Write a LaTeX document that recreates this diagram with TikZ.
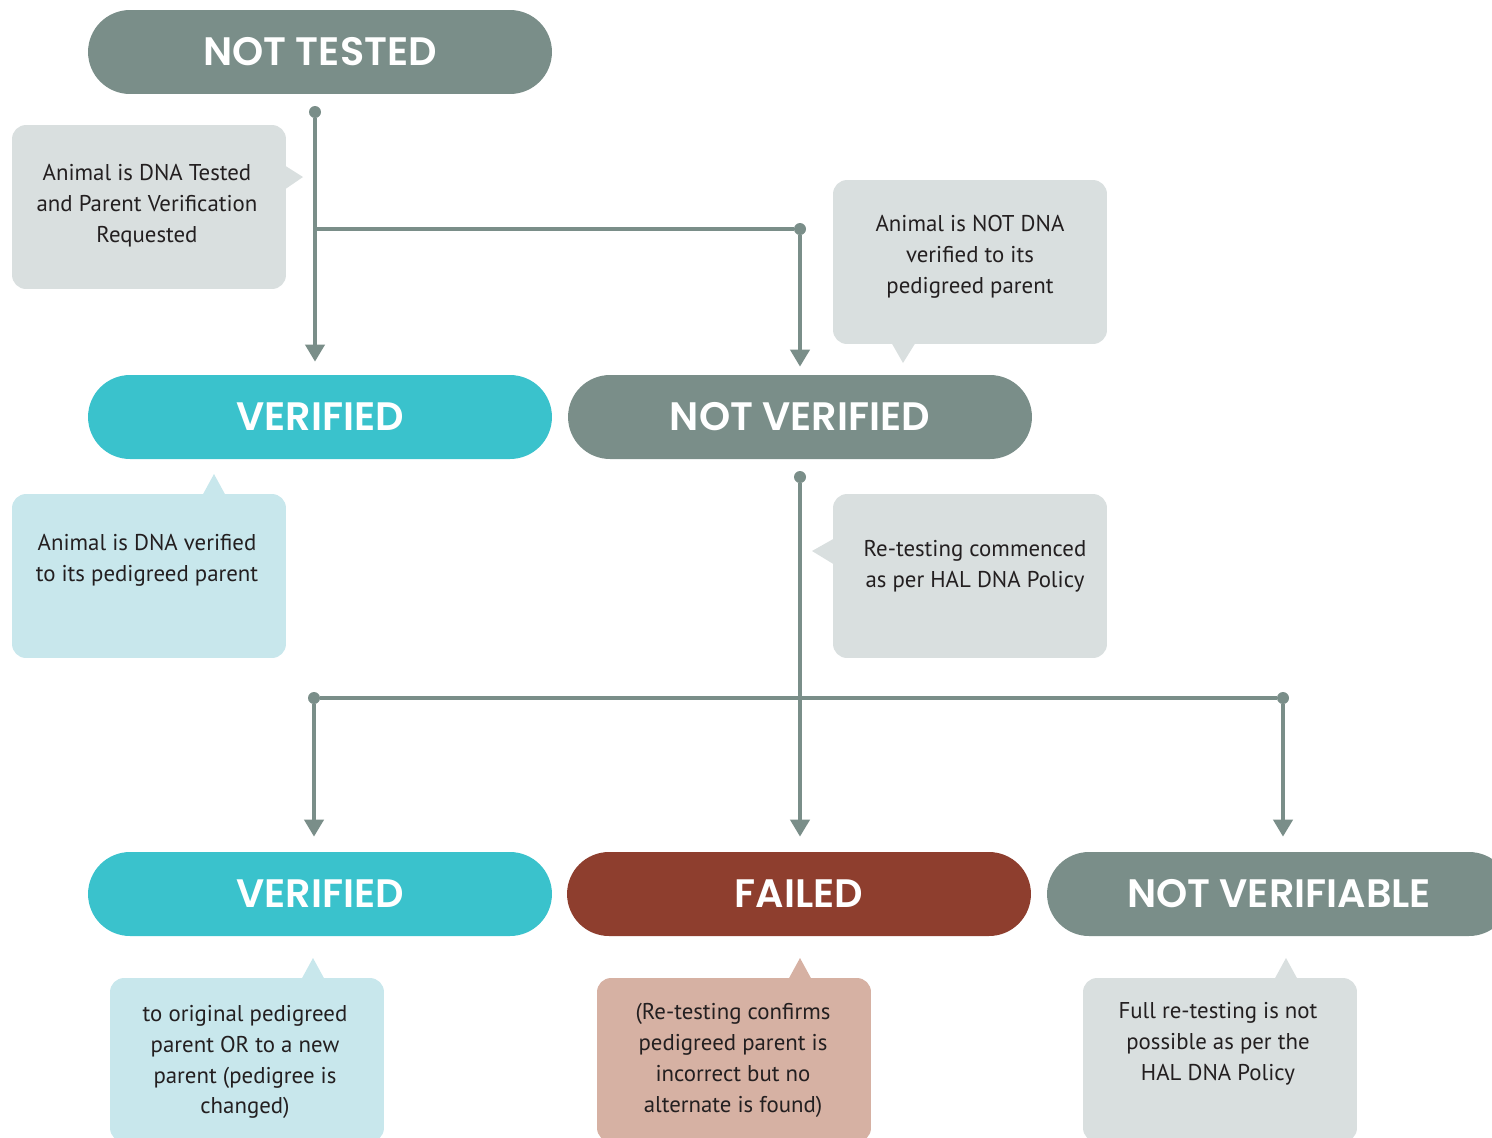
\documentclass[tikz,border=0pt]{standalone}
\usepackage{fontspec}
\setmainfont{PT Sans}
\newfontfamily\headfont{Poppins}[BoldFont={* SemiBold}]
\usepackage{tikz}
\usetikzlibrary{arrows.meta,positioning}

\definecolor{pillgray}{HTML}{7A8E89}
\definecolor{pillteal}{HTML}{3AC2CC}
\definecolor{pillred}{HTML}{8E3E2E}
\definecolor{notegray}{HTML}{D9DFDF}
\definecolor{noteblue}{HTML}{C8E7EC}
\definecolor{notered}{HTML}{D6B1A3}
\definecolor{inkdark}{HTML}{231F20}

\tikzset{
  pill/.style={rectangle, rounded corners=0.84cm, minimum width=9.28cm,
    minimum height=1.68cm, fill=#1, text=white,
    font=\headfont\bfseries\fontsize{22.6}{26}\selectfont},
  bubble/.style={rectangle, rounded corners=0.28cm, minimum width=5.48cm,
    minimum height=3.28cm, fill=#1},
  note/.style={align=center, text=inkdark, inner sep=0pt,
    font=\fontsize{13}{17.6}\selectfont},
  line/.style={draw=pillgray, line width=0.08cm},
  flow/.style={line, -{Triangle[length=0.34cm,width=0.38cm]}},
  dot/.style={circle, fill=pillgray, inner sep=0pt, minimum size=0.24cm}
}

\begin{document}
\begin{tikzpicture}[x=0.02cm, y=-0.02cm]
  \path[use as bounding box, clip] (0,0) rectangle (1492,1137);

  % Status pills
  \node[pill=pillgray] (nt)  at (320,52)   {NOT TESTED};
  \node[pill=pillteal] (v1)  at (320,417)  {VERIFIED};
  \node[pill=pillgray] (nv)  at (800,417)  {NOT VERIFIED};
  \node[pill=pillteal] (v2)  at (320,894)  {VERIFIED};
  \node[pill=pillred]  (fl)  at (799,894)  {FAILED};
  \node[pill=pillgray] (nvb) at (1279,894) {NOT VERIFIABLE};

  % Speech bubbles
  \node[bubble=notegray] (b1) at (149,207) {};
  \fill[notegray] (284,165) -- (303,177) -- (284,190) -- cycle;
  \node[note] (t1) at (147,206) {Animal is DNA Tested\\and Parent Verification\\Requested};

  \node[bubble=notegray] (b2) at (970,262) {};
  \fill[notegray] (891,342) -- (903,363) -- (916,342) -- cycle;
  \node[note] (t2) at (970,257) {Animal is NOT DNA\\verified to its\\pedigreed parent};

  \node[bubble=noteblue] (b3) at (149,576) {};
  \fill[noteblue] (202,496) -- (214,474) -- (226,496) -- cycle;
  \node[note] (t3) at (147,560) {Animal is DNA verified\\to its pedigreed parent};

  \node[bubble=notegray] (b4) at (970,576) {};
  \fill[notegray] (835,538) -- (812,551) -- (835,565) -- cycle;
  \node[note] (t4) at (975,566) {Re-testing commenced\\as per HAL DNA Policy};

  \node[bubble=noteblue] (b5) at (247,1060) {};
  \fill[noteblue] (301,980) -- (313,958) -- (325,980) -- cycle;
  \node[note] (t5) at (245,1062) {to original pedigreed\\parent OR to a new\\parent (pedigree is\\changed)};

  \node[bubble=notered] (b6) at (734,1060) {};
  \fill[notered] (788,980) -- (800,958) -- (812,980) -- cycle;
  \node[note] (t6) at (733,1060) {(Re-testing confirms\\pedigreed parent is\\incorrect but no\\alternate is found)};

  \node[bubble=notegray] (b7) at (1220,1060) {};
  \fill[notegray] (1274,980) -- (1286,958) -- (1298,980) -- cycle;
  \node[note] (t7) at (1218,1044) {Full re-testing is not\\possible as per the\\HAL DNA Policy};

  % Connectors
  \node[dot] (d1) at (315,112) {};
  \node[dot] (d2) at (800,229) {};
  \node[dot] (d3) at (800,477) {};
  \node[dot] (d4) at (314,698) {};
  \node[dot] (d5) at (1283,698) {};

  \draw[flow, shorten >=0.26cm] (d1) -- (d1 |- v1.north);
  \draw[line] (d1 |- d2) -- (d2);
  \draw[flow, shorten >=0.16cm] (d2) -- (d2 |- nv.north);
  \draw[flow, shorten >=0.3cm] (d3) -- (d3 |- fl.north);
  \draw[line] (d4) -- (d5);
  \draw[flow, shorten >=0.3cm] (d4) -- (d4 |- v2.north);
  \draw[flow, shorten >=0.3cm] (d5) -- (d5 |- nvb.north);
\end{tikzpicture}
\end{document}
